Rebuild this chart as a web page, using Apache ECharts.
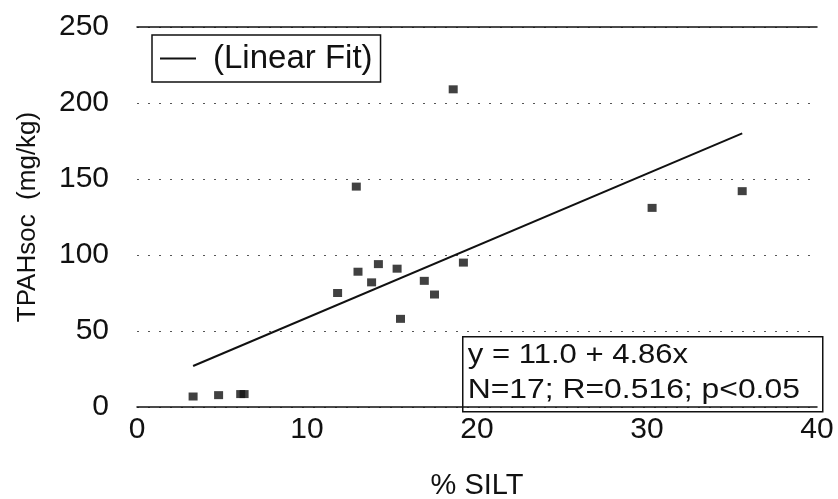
<!DOCTYPE html>
<html>
<head>
<meta charset="utf-8">
<script src="https://cdn.jsdelivr.net/npm/echarts@6/dist/echarts.min.js"></script>
<style>
  html, body { margin: 0; padding: 0; background: #fff; }
  #main { width: 838px; height: 499px; }
</style>
</head>
<body>
<div id="main"></div>
<script>
// % silt vs TPAHsoc
var silt = [3.3, 4.8, 6.1, 6.3, 11.8, 12.9, 13.0, 13.8, 14.2, 15.3, 15.5, 16.9, 17.5, 18.6, 19.2, 30.3, 35.6];
var tpah = [6.9, 7.8, 8.5, 8.5, 75, 145, 89, 82, 94, 91, 58, 83, 74, 209, 95, 131, 142];

// ends of the drawn fit line
var fitX = [3.3, 35.6];
var fitY = [27, 180];

var xTicks = [0, 10, 20, 30, 40];
var yTicks = [0, 50, 100, 150, 200, 250];

var eqLines = ['y = 11.0 + 4.86x', 'N=17; R=0.516; p<0.05'];

(function () {
    var myChart = echarts.init(document.getElementById('main'));
    var ink = '#111';
    var font = 'Liberation Sans, Arial, sans-serif';

    var points = silt.map(function (x, i) { return [x, tpah[i]]; });
    var fit = fitX.map(function (x, i) { return [x, fitY[i]]; });

    myChart.setOption({
        backgroundColor: '#fff',
        animation: false,
        textStyle: { fontFamily: font, color: ink },
        grid: { left: 137, right: 21, top: 27, bottom: 92, outerBoundsMode: 'none', containLabel: false },
        legend: {
            left: 152,
            top: 35,
            data: [{ name: '(Linear Fit)', icon: 'rect' }],
            itemWidth: 36,
            itemHeight: 2,
            itemGap: 0,
            padding: [7, 8, 7, 8],
            borderColor: ink,
            borderWidth: 1.5,
            textStyle: { fontSize: 33, color: ink, fontFamily: font, padding: [0, 0, 0, 12] }
        },
        xAxis: [{
            type: 'value',
            min: xTicks[0],
            max: xTicks[xTicks.length - 1],
            interval: 10,
            name: '% SILT',
            nameLocation: 'middle',
            nameGap: 64,
            nameTextStyle: { fontSize: 29, color: ink },
            axisLine: { show: true, lineStyle: { color: ink, width: 1.5 } },
            axisTick: { show: false },
            axisLabel: { fontSize: 30, color: ink, margin: 8 },
            splitLine: { show: false }
        }, {
            type: 'value',
            position: 'top',
            min: xTicks[0],
            max: xTicks[xTicks.length - 1],
            axisLine: { show: true, lineStyle: { color: ink, width: 1.5 } },
            axisTick: { show: false },
            axisLabel: { show: false },
            splitLine: { show: false }
        }],
        yAxis: {
            type: 'value',
            min: yTicks[0],
            max: yTicks[yTicks.length - 1],
            interval: 50,
            name: 'TPAHsoc  (mg/kg)',
            nameLocation: 'middle',
            nameGap: 96,
            nameTextStyle: { fontSize: 26, color: ink },
            axisLine: { show: false },
            axisTick: { show: false },
            axisLabel: { fontSize: 30, color: ink, margin: 28 },
            splitLine: { show: true, lineStyle: { color: '#555', type: [2, 9], width: 1 } }
        },
        series: [{
            name: 'data',
            type: 'scatter',
            data: points,
            symbol: 'rect',
            symbolSize: [9, 8],
            itemStyle: { color: ink },
            z: 3
        }, {
            name: '(Linear Fit)',
            type: 'line',
            data: fit,
            showSymbol: false,
            symbol: 'none',
            lineStyle: { color: ink, width: 2 },
            itemStyle: { color: ink },
            z: 2
        }],
        graphic: [{
            type: 'group',
            left: 462,
            top: 336,
            z: 10,
            children: [{
                type: 'rect',
                shape: { x: 0, y: 0, width: 360, height: 75 },
                style: { fill: '#fff', stroke: ink, lineWidth: 1.5 }
            }, {
                type: 'text',
                x: 5,
                y: 5,
                scaleX: 1.15,
                style: { text: eqLines[0], font: '27px ' + font, fill: ink }
            }, {
                type: 'text',
                x: 5,
                y: 40,
                scaleX: 1.18,
                style: { text: eqLines[1], font: '27px ' + font, fill: ink }
            }]
        }]
    });
})();
</script>
</body>
</html>
